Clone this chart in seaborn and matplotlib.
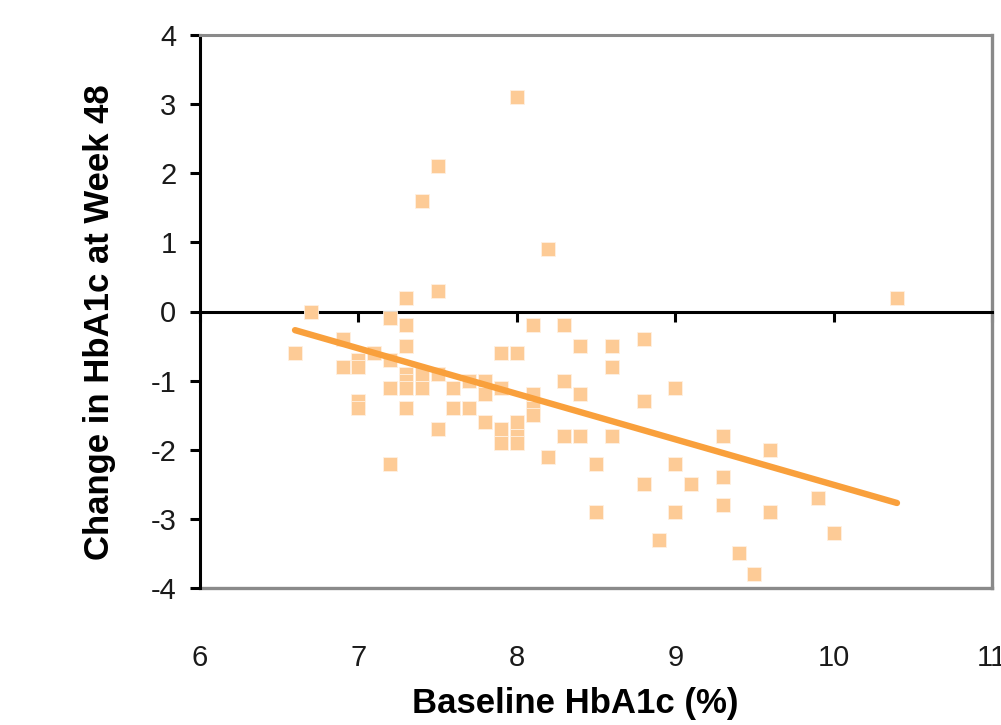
import matplotlib
matplotlib.use("Agg")
import matplotlib.pyplot as plt
from matplotlib import font_manager
import seaborn as sns
import pandas as pd

# ---- data ----
baseline = [6.6, 6.7, 6.9, 6.9, 7.0, 7.0, 7.0, 7.0, 7.1, 7.2, 7.2, 7.2, 7.2,
            7.3, 7.3, 7.3, 7.3, 7.3, 7.3, 7.3, 7.4, 7.4, 7.4, 7.5, 7.5, 7.5,
            7.5, 7.6, 7.6, 7.7, 7.7, 7.8, 7.8, 7.8, 7.9, 7.9, 7.9, 7.9, 8.0,
            8.0, 8.0, 8.0, 8.0, 8.1, 8.1, 8.1, 8.1, 8.2, 8.2, 8.3, 8.3, 8.3,
            8.4, 8.4, 8.4, 8.5, 8.5, 8.6, 8.6, 8.6, 8.8, 8.8, 8.8, 8.9, 9.0,
            9.0, 9.0, 9.1, 9.3, 9.3, 9.3, 9.4, 9.5, 9.6, 9.6, 9.9, 10.0, 10.4]
change = [-0.6, 0.0, -0.4, -0.8, -0.7, -0.8, -1.3, -1.4, -0.6, -0.1, -0.7, -1.1, -2.2,
          0.2, -0.2, -0.5, -0.9, -1.0, -1.1, -1.4, 1.6, -0.9, -1.1, 2.1, 0.3, -0.9,
          -1.7, -1.1, -1.4, -1.0, -1.4, -1.0, -1.2, -1.6, -0.6, -1.1, -1.7, -1.9, 3.1,
          -0.6, -1.6, -1.8, -1.9, -0.2, -1.2, -1.4, -1.5, 0.9, -2.1, -0.2, -1.0, -1.8,
          -0.5, -1.2, -1.8, -2.2, -2.9, -0.5, -0.8, -1.8, -0.4, -1.3, -2.5, -3.3, -1.1,
          -2.2, -2.9, -2.5, -1.8, -2.4, -2.8, -3.5, -3.8, -2.0, -2.9, -2.7, -3.2, 0.2]

# trend line end points as drawn in the reference
trend_x = [6.6, 10.4]
trend_y = [-0.27, -2.77]

x_ticks = [6, 7, 8, 9, 10, 11]
y_ticks = [-4, -3, -2, -1, 0, 1, 2, 3, 4]
x_label = "Baseline HbA1c (%)"
y_label = "Change in HbA1c at Week 48"

df = pd.DataFrame({"baseline": baseline, "change": change})
trend = pd.DataFrame({"x": trend_x, "y": trend_y})

sns.set_theme(style="white")
names = {f.name for f in font_manager.fontManager.ttflist}
if "Liberation Sans Narrow" in names:
    fam = ["Liberation Sans Narrow", "Liberation Sans", "DejaVu Sans"]
    tick_fs, lab_fs = 22, 30
else:
    fam = ["Liberation Sans", "DejaVu Sans"]
    tick_fs, lab_fs = 21, 25
plt.rcParams["font.family"] = fam

fig = plt.figure(figsize=(10.01, 7.25), dpi=100)
ax = fig.add_axes([200 / 1001, 1 - 588 / 725, 792 / 1001, 553 / 725])

sns.scatterplot(data=df, x="baseline", y="change", marker="s", s=105,
                color="#FDCB96", edgecolor="#FFF1E2", linewidth=0.6,
                ax=ax, zorder=3, legend=False)
sns.lineplot(data=trend, x="x", y="y", color="#F9A03C", linewidth=4.6,
             ax=ax, zorder=4, solid_capstyle="round")

ax.set_xlim(6, 11)
ax.set_ylim(-4, 4)
ax.set_xticks(x_ticks)
ax.set_yticks(y_ticks)
ax.set_yticklabels([str(v) for v in y_ticks])

# spines
gray = "#8A8A8A"
ax.spines["left"].set_color("black")
ax.spines["left"].set_linewidth(2.2)
ax.spines["top"].set_color(gray)
ax.spines["top"].set_linewidth(2.2)
ax.spines["right"].set_color(gray)
ax.spines["right"].set_linewidth(2.4)
ax.spines["bottom"].set_position(("data", 0))
ax.spines["bottom"].set_color("black")
ax.spines["bottom"].set_linewidth(2.2)
for s in ax.spines.values():
    s.set_zorder(2)

ax.tick_params(axis="x", direction="out", length=7, width=2.2, colors="black",
               labelbottom=False, bottom=True)
ax.tick_params(axis="y", direction="out", length=7, width=2.2, colors="black",
               labelsize=tick_fs, labelcolor="#1a1a1a", pad=10, left=True)

# bottom border with the x tick labels (Excel "low" label position)
sec = ax.secondary_xaxis("bottom")
sec.set_xticks(x_ticks)
sec.set_xticklabels([str(v) for v in x_ticks])
sec.tick_params(length=0, pad=40, labelsize=tick_fs, labelcolor="#1a1a1a")
sec.spines["bottom"].set_color(gray)
sec.spines["bottom"].set_linewidth(2.4)

ax.set_xlabel("")
ax.set_ylabel("")
fig.text((200 + 0.474 * 792) / 1001, 1 - 703 / 725, x_label, ha="center", va="center",
         fontsize=lab_fs, fontweight="bold", color="black")
ax.set_ylabel(y_label, fontsize=lab_fs, fontweight="bold", color="black", va="center")
ax.yaxis.set_label_coords((100 - 200) / 792, (588 - 322) / 553)

fig.savefig("out.png", dpi=100)
